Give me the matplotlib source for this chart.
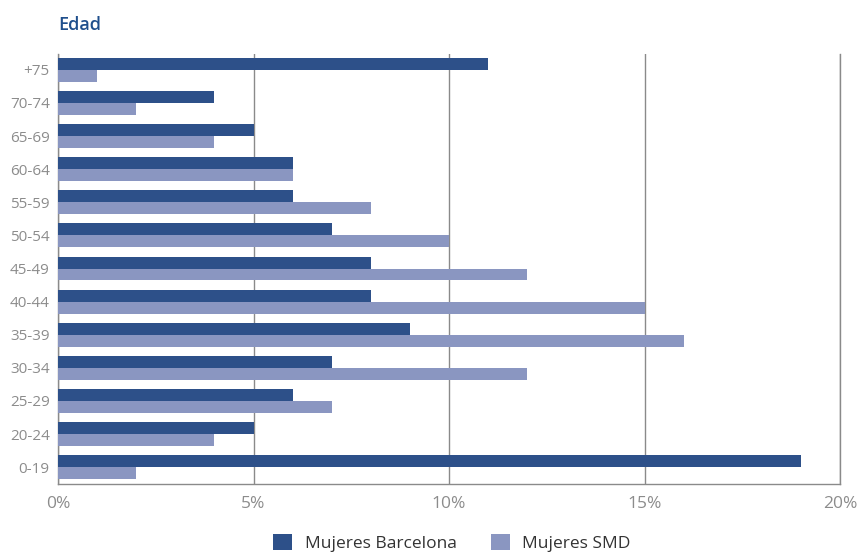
import matplotlib.pyplot as plt
import numpy as np

plt.rcParams['font.family'] = ['Open Sans', 'DejaVu Sans']

edades = ['0-19', '20-24', '25-29', '30-34', '35-39', '40-44', '45-49',
          '50-54', '55-59', '60-64', '65-69', '70-74', '+75']
barcelona = [19, 5, 6, 7, 9, 8, 8, 7, 6, 6, 5, 4, 11]
smd = [2, 4, 7, 12, 16, 15, 12, 10, 8, 6, 4, 2, 1]
ticks = [0, 5, 10, 15, 20]
tick_labels = ['0%', '5%', '10%', '15%', '20%']

c_bcn = '#2d5089'
c_smd = '#8a96c1'
grey = '#8c8c8c'

fig = plt.figure(figsize=(8.61, 5.59), dpi=100, facecolor='w')
ax = fig.add_axes([58/861, 1-484/559, (840-58)/861, (484-54)/559])

y = np.arange(len(edades))
h = 0.36
ax.barh(y + h/2, barcelona, height=h, color=c_bcn, zorder=3, label='Mujeres Barcelona')
ax.barh(y - h/2, smd, height=h, color=c_smd, zorder=3, label='Mujeres SMD')

ax.set_xlim(0, 20)
ax.set_ylim(-0.51, 12.48)
ax.set_xticks(ticks)
ax.set_xticklabels(tick_labels, fontsize=12.5, color=grey)
ax.set_yticks(y)
ax.set_yticklabels(edades, fontsize=11, color=grey)
ax.tick_params(length=0, pad=6)
ax.tick_params(axis='x', pad=9)

ax.xaxis.grid(True, color='#8a8a8a', linewidth=1)
ax.set_axisbelow(True)
ax.spines['top'].set_visible(False)
for s in ['left', 'bottom', 'right']:
    ax.spines[s].set_color('#8a8a8a')
    ax.spines[s].set_linewidth(1)

fig.text(58/861, 1-25/559, 'Edad', fontsize=13, color='#1f4f8c',
         fontweight='semibold', va='center', ha='left')

leg = fig.legend(loc='lower center', bbox_to_anchor=(0.525, -0.015), ncol=2,
                 frameon=False, fontsize=12.5, handlelength=1.1, handleheight=1.1,
                 columnspacing=2.0, handletextpad=0.7)
for t in leg.get_texts():
    t.set_color('#333333')

fig.savefig('out.png', dpi=100)
